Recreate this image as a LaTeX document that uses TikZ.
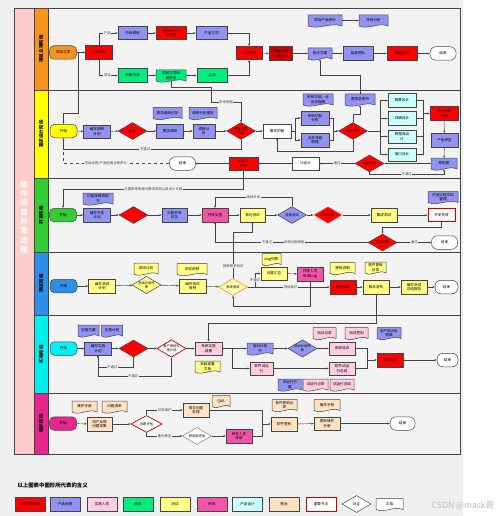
\documentclass[tikz,border=0pt]{standalone}
\usepackage{fontspec}
\setmainfont{Noto Sans CJK SC}
\usetikzlibrary{shapes.geometric,arrows.meta}

\definecolor{bg}{HTML}{EEF0F0}
\definecolor{lanebg}{HTML}{F3F3F3}
\definecolor{pinkcol}{HTML}{FFCCCC}
\definecolor{lorange}{HTML}{F7941D}
\definecolor{lyellow}{HTML}{FFFF00}
\definecolor{lgreen}{HTML}{33CC33}
\definecolor{lblue}{HTML}{2F8FE8}
\definecolor{lcyan}{HTML}{00F0F0}
\definecolor{lmag}{HTML}{E6268C}
\definecolor{cred}{HTML}{FF0000}
\definecolor{cdred}{HTML}{D40000}
\definecolor{cblue}{HTML}{9292F2}
\definecolor{cpink}{HTML}{FFCCE2}
\definecolor{cgreen}{HTML}{00EE80}
\definecolor{cyel}{HTML}{FFFF88}
\definecolor{cmag}{HTML}{F255A8}
\definecolor{ccyan}{HTML}{CCFFFF}
\definecolor{cbeige}{HTML}{FFE2C2}
\definecolor{edge}{HTML}{444444}

\tikzset{
  nfont/.style={font=\fontsize{3.6}{4.3}\selectfont},
  box/.style={nfont,draw=edge,line width=.5pt,minimum width=27pt,minimum height=13.5pt,inner sep=.5pt,align=center,text=black},
  startbox/.style={box,rounded corners=4.5pt},
  endbox/.style={box,fill=white,rounded corners=6pt,minimum width=26pt},
  keybox/.style={box,fill=white,draw=red!80!black,line width=.7pt},
  dia/.style={diamond,draw=edge,line width=.5pt,minimum width=29pt,minimum height=17pt,inner sep=-1.5pt,align=center,text=black,font=\fontsize{3.3}{3.9}\selectfont},
  keydia/.style={dia,fill=white,draw=red!80!black,line width=.7pt},
  docline/.style={draw=edge,line width=.5pt},
  doctext/.style={nfont,inner sep=0pt,minimum height=11pt,align=center,text=black},
  arr/.style={draw=edge,line width=.45pt,-{Stealth[length=2.4pt,width=2pt]}},
  wire/.style={draw=edge,line width=.45pt},
  lbl/.style={fill=lanebg,inner sep=.6pt,font=\fontsize{3.4}{4}\selectfont,text=black!75},
  lanelabel/.style={rotate=90,font=\fontsize{4.6}{5}\selectfont\bfseries,text=black}
}

\newcommand{\docnode}[6]{%
  \draw[docline,fill=#5] ({#2-#4/2},{#3-6.5}) -- ({#2+#4/2},{#3-6.5}) -- ({#2+#4/2},{#3+4.5})
    .. controls ({#2+#4/6},{#3+0.5}) and ({#2-#4/6},{#3+8.5}) .. ({#2-#4/2},{#3+4.5}) -- cycle;
  \node[doctext,minimum width=#4pt] (#1) at (#2,{#3-1}) {#6};}

\begin{document}
\begin{tikzpicture}[x=1pt,y=-1pt]
\useasboundingbox[fill=white] (0,0) rectangle (500,516);
\fill[bg] (0,0) rectangle (463,516);
\fill[lanebg] (14,8) rectangle (460,454);
\fill[pinkcol] (14,8) rectangle (34,454);
\fill[lorange] (34,8) rectangle (48,90);
\fill[lyellow] (34,90) rectangle (48,178);
\fill[lgreen] (34,178) rectangle (48,252);
\fill[lblue] (34,252) rectangle (48,315);
\fill[lcyan] (34,315) rectangle (48,393);
\fill[lmag] (34,393) rectangle (48,454);
\draw[edge,line width=.6pt] (34,8) -- (34,454) (48,8) -- (48,454);
\foreach \yy in {90,178,252,315,393} \draw[edge,line width=.8pt] (34,\yy) -- (460,\yy);
\draw[edge,line width=.9pt] (14,8) rectangle (460,454);

\node[text=white,font=\fontsize{7.5}{9.3}\selectfont\bfseries,align=center] (title) at (24,217) {软\\件\\项\\目\\开\\发\\流\\程};
\node[lanelabel] (lab1) at (41,49) {项目立项阶段};
\node[lanelabel] (lab2) at (41,134) {需求设计阶段};
\node[lanelabel] (lab3) at (41,215) {开发阶段};
\node[lanelabel] (lab4) at (41,283.5) {测试阶段};
\node[lanelabel] (lab5) at (41,354) {实施阶段};
\node[lanelabel] (lab6) at (41,423.5) {维护阶段};

% lane 1
\node[startbox,fill=lorange] (s1) at (63,52.5) {项目立项};
\node[box,fill=cred] (plan) at (99,52.5) {产品规划};
\node[box,fill=cblue,minimum width=29pt] (mkt) at (132.5,33) {市场调研};
\node[box,fill=cred,minimum width=30pt] (comp) at (171,33) {竞争对手产\\品分析};
\node[box,fill=cblue,minimum width=31pt] (prod) at (211.5,33) {产品立项};
\node[box,fill=cgreen,minimum width=29pt] (talk) at (132.5,75.5) {前期沟通};
\docnode{apply}{171}{76.5}{30}{cgreen}{项目立项申\\请报告}
\node[box,fill=cgreen,minimum width=30pt] (est) at (212,75.5) {立项};
\node[box,fill=cred,minimum width=26pt] (rev1) at (249,53) {立项评审};
\node[box,fill=cdred,minimum width=23pt] (sign) at (280.5,53.5) {项目合同\\签订};
\docnode{tech}{320}{54.5}{24}{cblue}{技术方案}
\node[box,fill=cblue,minimum width=30pt] (team) at (358,53.5) {组建团队};
\node[box,fill=cred,minimum width=30pt] (kick) at (402,53.5) {项目启动};
\node[endbox] (e1) at (443,53.5) {结束};
\docnode{pplan}{325}{21.5}{34}{cblue}{项目产品规划}
\docnode{mana}{373.5}{21.5}{29}{cblue}{市场分析}

\draw[arr] (s1) -- (plan);
\draw[arr] (plan) |- node[lbl,pos=.72]{产品} (mkt);
\draw[arr] (plan) |- node[lbl,pos=.72]{项目} (talk);
\draw[arr] (mkt) -- (comp);
\draw[arr] (comp) -- (prod);
\draw[arr] (talk) -- (apply);
\draw[arr] (apply) -- (est);
\draw[arr] (prod) -| (rev1);
\draw[arr] (est) -| (rev1);
\draw[arr] (rev1) -- (sign);
\draw[arr] (sign) -- (tech);
\draw[arr] (tech) -- (team);
\draw[arr] (team) -- (kick);
\draw[arr] (kick) -- (e1);
\draw[arr] (pplan) -- (mana);

% lane 2
\node[startbox,fill=lyellow] (s2) at (63.5,131) {开始};
\node[box,fill=cblue] (rplan) at (97,131.5) {编写调研\\计划};
\node[dia,fill=cred] (d21) at (132.5,131) {审批};
\node[box,fill=cblue] (survey) at (170,131) {需求调研};
\docnode{srec}{167.5}{114}{29}{cblue}{需求调研记录}
\node[box,fill=cblue,minimum width=22pt] (anal) at (204,131) {调研分\\析};
\docnode{arep}{203}{114}{28}{cblue}{调研分析报告}
\node[dia,fill=cred] (d22) at (241,131) {需求调研\\评审};
\node[box,fill=white,minimum width=28pt] (draft) at (277,131) {需求初稿};
\node[box,fill=cblue,minimum width=28pt] (func) at (315,118) {系统功能\\分析};
\node[box,fill=cblue,minimum width=28pt] (flow) at (315,140) {业务流程\\梳理};
\docnode{fdoc}{318}{100.5}{30}{cblue}{系统功能、业\\务流程图}
\node[dia,fill=cred] (d23) at (353,131) {需求评审};
\docnode{reqdoc}{360}{100.5}{30}{cblue}{需求说明书}
\node[box,fill=ccyan,minimum width=28pt] (gd) at (402,100.5) {概要设计};
\node[box,fill=ccyan,minimum width=28pt] (dd) at (402,118.5) {详细设计};
\node[box,fill=ccyan,minimum width=28pt] (db) at (402,136.5) {数据库设\\计};
\node[box,fill=ccyan,minimum width=28pt] (api) at (402,154.5) {接口设计};
\node[box,fill=cred,minimum width=28pt] (drev) at (444,113.5) {设计文档\\评审};
\node[box,fill=cblue] (proto) at (444.5,140) {产品原型};
\docnode{pdoc}{444}{164.5}{26}{cblue}{原型图}
\node[dia,fill=cred] (d24) at (369.5,163.5) {原型评审};
\node[box,fill=white] (ui) at (305.5,163.5) {UI设计};
\node[box,fill=cred,minimum width=29pt] (uirev) at (243.5,163.5) {UI设计\\评审};
\node[endbox] (e2) at (182.5,163.5) {结束};

\draw[arr] (s2) -- (rplan);
\draw[arr] (rplan) -- (d21);
\draw[arr] (d21) -- (survey);
\draw[arr] (survey) -- (anal);
\draw[arr] (anal) -- (d22);
\draw[arr] (d22) -- (draft);
\coordinate (j1) at (78,52.5);
\coordinate (j2) at (78,113);
\draw[arr] (j1) -- (j2) -| (s2);
\coordinate (j3) at (171,87);
\coordinate (j4) at (211,87);
\coordinate (j5) at (211,102);
\draw[arr] (apply) -- (j3) -- (j4) -- (j5) -| node[lbl,pos=.25]{参考依据} (d22);
\coordinate (j6) at (360,75);
\draw[arr] (reqdoc) -- (j6) -| (tech);
\coordinate (j7) at (241,149);
\draw[arr] (d22) -- (j7) -| node[lbl,pos=.27]{不通过} (s2);
\coordinate (j8) at (63.5,149);
\draw[wire,dashed] (e2) -| node[lbl,pos=.3]{项目经理/产品经理全程参与} (j8);
\coordinate (f1) at (295,131);
\draw[wire] (draft) -- (f1);
\draw[arr] (f1) |- (func);
\draw[arr] (f1) |- (flow);
\coordinate (f2) at (333,131);
\draw[wire] (func) -| (f2);
\draw[wire] (flow) -| (f2);
\draw[arr] (f2) -- (d23);
\coordinate (j10) at (353,114);
\draw[arr] (d23) -- (j10) -| (reqdoc);
\coordinate (j9) at (353,151);
\draw[arr] (d23) -- (j9) -| (draft);
\coordinate (j11) at (380,131);
\draw[wire] (d23) -- (j11);
\foreach \n in {gd,dd,db,api} \draw[arr] (j11) |- (\n);
\coordinate (j12) at (423,113.5);
\foreach \n in {gd,dd,db,api} \draw[wire] (\n) -| (j12);
\draw[arr] (j12) -- (drev);
\draw[arr] (drev) -- (proto);
\draw[arr] (proto) -- (pdoc);
\draw[arr] (pdoc) -- (d24);
\draw[arr] (d24) -- node[lbl]{通过} (ui);
\coordinate (j13) at (369.5,174.5);
\draw[arr] (d24) -- (j13) -| node[lbl,pos=.25]{不通过} (pdoc);
\draw[arr] (ui) -- (uirev);
\draw[arr] (uirev) -- (e2);

% lane 3
\node[startbox,fill=lgreen] (s3) at (63,215) {开始};
\node[box,fill=cblue] (dplan) at (97,215) {编写开发\\计划};
\docnode{spec}{98}{199.5}{30}{cblue}{功能规格说明\\书}
\node[dia,fill=cred] (d31) at (133.5,215) {};
\node[box,fill=cblue,minimum width=25pt] (task) at (174.5,215) {分配开发\\任务};
\node[box,fill=cmag,minimum width=26pt] (code) at (215,215) {开发实施};
\node[box,fill=cyel,minimum width=25pt] (unit) at (252.5,215) {单元测试};
\node[dia,fill=cblue] (d32) at (292,215) {冒烟测试};
\node[dia,fill=cred,draw=red!35] (d33) at (328,215) {代码评审};
\node[box,fill=cyel,minimum width=26pt] (integ) at (384,215) {集成测试};
\node[keybox] (devdone) at (441.5,215) {开发完成};
\docnode{ddoc}{443}{198}{30}{cblue}{开发过程文档\\管理}
\node[dia,fill=cred] (d34) at (382.5,242.5) {测试评审};
\node[endbox] (e3) at (444.5,242.5) {结束};

\coordinate (j14) at (243.5,189);
\draw[arr] (uirev) -- (j14) -| node[lbl,pos=.25]{主要参考依据为需求说明以及设计文档} (s3);
\draw[arr] (s3) -- (dplan);
\draw[arr] (dplan) -- (d31);
\draw[arr] (d31) -- (task);
\draw[arr] (task) -- (code);
\draw[arr] (code) -- (unit);
\draw[arr] (unit) -- (d32);
\draw[arr] (d32) -- (d33);
\draw[arr] (d33) -- (integ);
\draw[arr] (integ) -- (devdone);
\coordinate (j15) at (292,197);
\draw[arr] (d32) -- (j15) -| node[lbl,pos=.25]{继续开发} (code);
\coordinate (j16) at (441.5,227);
\draw[arr] (devdone) -- (j16) -| (d34);
\draw[arr] (d34) -- node[lbl]{通过} (e3);
\draw[arr] (d34) -| node[lbl,pos=.33]{不通过} node[lbl,pos=.24]{系统功能缺陷} (code);

% lane 4
\node[startbox,fill=lblue] (s4) at (63.5,286) {开始};
\node[box,fill=cyel] (tplan) at (102,286) {编写测试\\计划};
\node[dia,fill=cyel] (d41) at (146.5,285) {测试计划评\\审};
\docnode{tpdoc}{146}{269.5}{24}{cyel}{测试计划}
\node[box,fill=cyel] (tcase) at (192.5,286) {编写测试\\用例};
\docnode{tcdoc}{192}{270}{30}{cyel}{测试用例}
\node[dia,fill=cyel!60,draw=orange] (d42) at (233,287) {系统测试};
\node[box,fill=cyel,minimum width=26pt] (bugsum) at (274,273.5) {问题汇总};
\docnode{buglist}{271.5}{260}{19}{cyel}{bug列表}
\node[box,fill=cmag,minimum width=26pt] (fix) at (310,274) {开发人员\\修改bug};
\node[box,fill=cred,minimum width=26pt] (accept) at (343,287) {验收测试};
\docnode{manual}{342.5}{269}{25}{cyel}{使用说明}
\node[box,fill=cyel,minimum width=26pt] (rel) at (376,287) {版本发布};
\docnode{relnote}{375.5}{268.5}{21}{cyel}{软件更新\\记录}
\node[box,fill=cyel,minimum width=26pt] (trep) at (414,287) {编写测试\\总结报告};
\node[endbox,minimum width=23pt] (e4) at (446.5,287) {结束};

\coordinate (j17) at (233,232);
\draw[arr] (d42) -- node[lbl,pos=.27]{按照需求测试} (j17) -| (unit);
\draw[arr] (s4) -- (tplan);
\draw[arr] (tplan) -- (d41);
\draw[arr] (d41) -- (tcase);
\draw[arr] (tcase) -- (d42);
\draw[arr] (d42) -- node[lbl,pos=.52]{测试通过} (accept);
\coordinate (j18) at (255,287);
\draw[arr] (j18) |- node[lbl,pos=.25]{不通过} (bugsum);
\draw[arr] (bugsum) -- (fix);
\coordinate (j19) at (310,306);
\draw[arr] (fix) -- (j19) -| (d42);
\draw[arr] (accept) -- (rel);
\draw[arr] (rel) -- (trep);
\draw[arr] (trep) -- (e4);

% lane 5
\node[startbox,fill=lcyan] (s5) at (63.5,348.5) {开始};
\node[box,fill=cblue] (iplan) at (98,348.5) {编写实施\\计划};
\docnode{ischeme}{88.5}{331.5}{21}{cblue}{实施方案}
\docnode{ipdoc}{112}{331.5}{21}{cblue}{实施计划}
\node[dia,fill=cred] (d51) at (133.5,348.5) {};
\node[keydia] (d52) at (171.5,348.5) {客户审核实\\施计划};
\node[box,fill=cpink] (deploy) at (208.5,348.5) {系统实施\\部署};
\docnode{instdoc}{207.5}{367.5}{25}{cyel}{安装部署\\文档}
\docnode{trainplan}{260}{349.5}{26}{cblue}{培训计划\\书}
\node[box,fill=cpink,minimum width=23pt] (trial) at (261.5,368.5) {软件试运\\行};
\node[dia,fill=cblue] (d53) at (302.5,348.5) {培训计划审\\核};
\node[box,fill=cpink,minimum width=26pt] (train) at (342,348.5) {系统培训};
\docnode{trec}{324.5}{334}{23}{cpink}{培训记录}
\docnode{tmat}{356.5}{334}{23}{cpink}{培训签到}
\docnode{tfb}{389}{334}{24}{cblue}{用户培训反\\馈表}
\node[box,fill=cpink,minimum width=26pt] (tsum) at (342,368.5) {软件试运\\行总结};
\node[box,fill=cred,minimum width=26pt] (final) at (390,360) {项目验收};
\node[endbox,minimum width=21pt] (e5) at (447.5,360) {结束};
\docnode{trplan}{290}{385.5}{24}{cblue}{试运行方\\案}
\docnode{trrec}{315.5}{385.5}{25}{cpink}{试运行记录}
\docnode{trsum}{342}{385.5}{24}{cpink}{试运行总结}

\coordinate (j20) at (376,323);
\draw[arr] (rel) -- (j20) -| (deploy);
\draw[arr] (s5) -- (iplan);
\draw[arr] (iplan) -- (d51);
\draw[arr] (d51) -- (d52);
\draw[arr] (d52) -- (deploy);
\coordinate (j21) at (133.5,367);
\coordinate (j22) at (171.5,376);
\draw[arr] (d51) -- (j21) -| node[lbl,pos=.3]{不通过} (iplan);
\draw[arr] (d52) -- (j22) -| node[lbl,pos=.26]{不通过} (iplan);
\coordinate (j23) at (232,348.5);
\draw[arr] (deploy) -- (trainplan);
\draw[arr] (j23) |- (trial);
\draw[arr] (trainplan) -- (d53);
\draw[arr] (d53) -- (train);
\draw[arr] (trial) -- (tsum);
\coordinate (j24) at (367,360);
\draw[wire] (train) -| (j24);
\draw[wire] (tsum) -| (j24);
\draw[arr] (j24) -- (final);
\draw[arr] (final) -- (e5);

% lane 6
\node[startbox,fill=lmag] (s6) at (63,423.5) {开始};
\node[box,fill=cbeige,minimum width=25pt] (collect) at (99.5,424) {用户反馈\\问题收集};
\docnode{mman}{84.5}{407.5}{25}{cbeige}{维护手册}
\docnode{qlist}{114.5}{407.5}{25}{cbeige}{问题清单}
\node[keydia,minimum width=31pt] (d61) at (146.5,424) {问题评估};
\node[box,fill=cbeige,minimum width=26pt] (common) at (196,410) {常见问题\\处理};
\docnode{qa}{221}{402}{18}{cbeige}{Q\&A}
\node[dia,fill=white,draw=gray] (d62) at (197,436) {研发部评估};
\node[box,fill=cmag,minimum width=26pt] (devfix) at (239,436) {研发人员\\修改};
\node[box,fill=cbeige,minimum width=26pt] (update) at (284,424) {软件更新};
\docnode{urec}{284.5}{406}{25}{cbeige}{软件更新记\\录}
\node[box,fill=cbeige,minimum width=26pt] (umanual) at (327,423.5) {更新操作\\手册};
\docnode{opman}{327}{406}{26}{cbeige}{操作手册}
\node[endbox,minimum width=25pt] (e6) at (402.5,423.5) {结束};

\draw[arr] (s6) -- (collect);
\draw[arr] (collect) -- (d61);
\draw[arr] (d61) |- node[lbl,pos=.75]{日常维护} (common);
\draw[arr] (d61) |- node[lbl,pos=.75]{重大需求} (d62);
\draw[arr] (d62) -- (devfix);
\coordinate (f8) at (262,424);
\draw[wire] (common) -| (f8);
\draw[wire] (devfix) -| (f8);
\draw[arr] (f8) -- (update);
\draw[arr] (update) -- (umanual);
\draw[arr] (umanual) -- (e6);

% legend
\node[anchor=west,font=\fontsize{5.4}{6}\selectfont\bfseries] (legtitle) at (14,485) {以上图表中图形所代表的含义};
\node[box,fill=cred,minimum width=30pt,minimum height=14pt] (lg1) at (30,504) {公司高层领导};
\node[box,fill=cblue,minimum width=30pt,minimum height=14pt] (lg2) at (65,504) {产品经理};
\node[box,fill=cpink,minimum width=30pt,minimum height=14pt] (lg3) at (102,504) {实施人员};
\node[box,fill=cgreen,minimum width=30pt,minimum height=14pt] (lg4) at (138,504) {商务};
\node[box,fill=cyel,minimum width=30pt,minimum height=14pt] (lg5) at (175,504) {测试};
\node[box,fill=cmag,minimum width=30pt,minimum height=14pt] (lg6) at (212,504) {研发};
\node[box,fill=ccyan,minimum width=30pt,minimum height=14pt] (lg7) at (247.5,504) {产品设计};
\node[box,fill=cbeige,minimum width=30pt,minimum height=14pt] (lg8) at (284,504) {售后};
\node[keybox,minimum width=30pt,minimum height=14pt] (lg9) at (321,504) {重要节点};
\node[dia,fill=white] (lg10) at (356.5,504) {判定};
\docnode{lg11}{389.5}{505}{27}{white}{文档}
\node[text=black!28,font=\fontsize{8.5}{9}\selectfont] (wm) at (463,506) {CSDN @mask哥};
\end{tikzpicture}
\end{document}
